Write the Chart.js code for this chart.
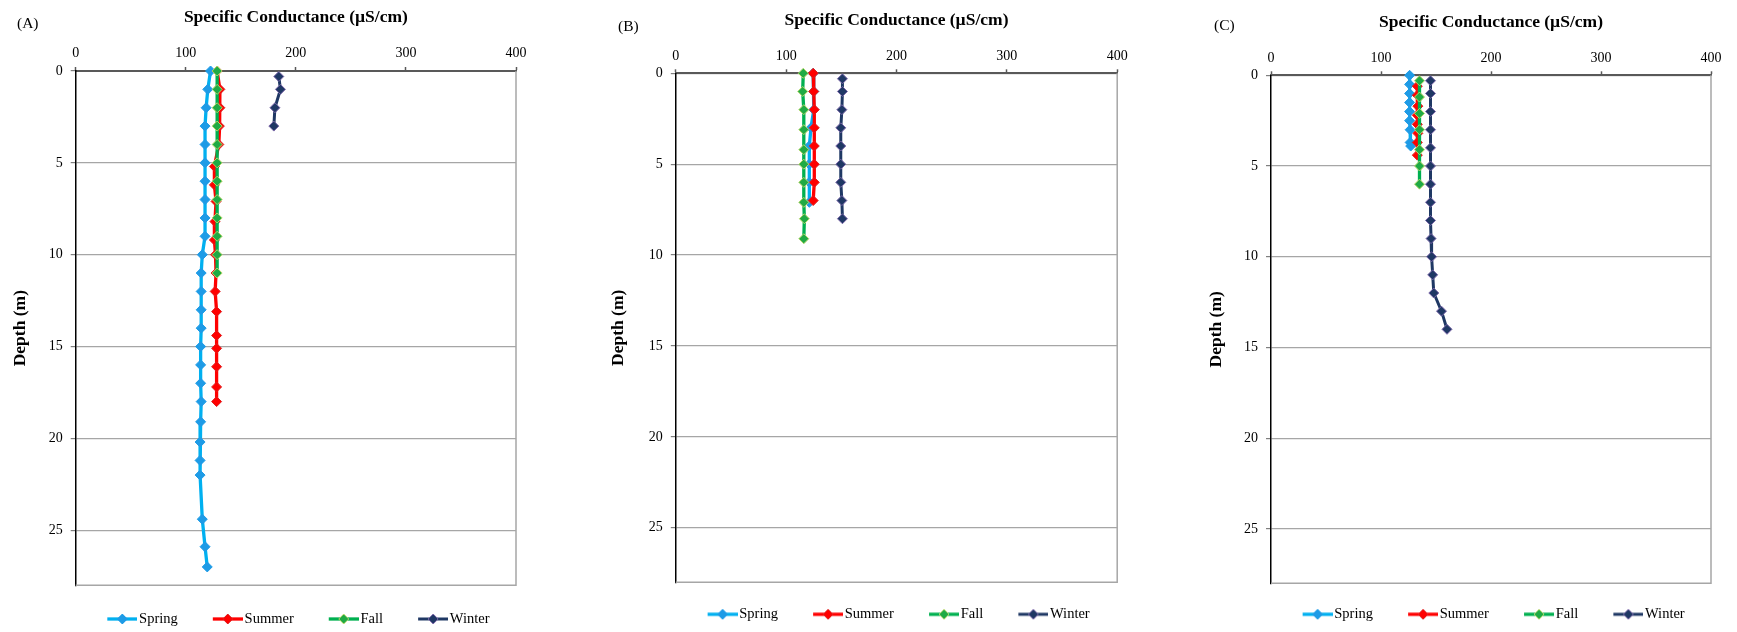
<!DOCTYPE html>
<html>
<head>
<meta charset="utf-8">
<title>Specific conductance profiles</title>
<script src="https://cdn.jsdelivr.net/npm/chart.js@4.4.1/dist/chart.umd.min.js"></script>
<style>
  html, body { margin: 0; padding: 0; background: #fff; }
  #sheet { position: relative; width: 1737px; height: 632px; overflow: hidden; }
  #sheet canvas { position: absolute; top: 0; }
  .panel-tag { position: absolute; font: 15.5px "Liberation Serif", "Times New Roman", serif; line-height: 18px; color: #000; }
</style>
</head>
<body>
<div id="sheet">
  <canvas id="siteA" width="590" height="637" style="left:0px"></canvas>
  <canvas id="siteB" width="590" height="632" style="left:590px"></canvas>
  <canvas id="siteC" width="557" height="632" style="left:1180px"></canvas>
  <div class="panel-tag" style="left:17px;top:14px">(A)</div>
  <div class="panel-tag" style="left:618px;top:17px">(B)</div>
  <div class="panel-tag" style="left:1214px;top:16px">(C)</div>
</div>
<script>
// Specific conductance (µS/cm) by depth (m), one profile per season at each site
const seasons = ['Spring', 'Summer', 'Fall', 'Winter'];

// Site A
const depthSpringA = [0, 1, 2, 3, 4, 5, 6, 7, 8, 9, 10, 11, 12, 13, 14, 15, 16, 17, 18, 19.1, 20.2, 21.2, 22, 24.4, 25.9, 27];
const condSpringA = [122.5, 120, 118.5, 117.5, 117.5, 117.5, 117.5, 117.5, 117.5, 117.5, 115, 114, 114, 114, 114, 113.5, 113.5, 113.5, 114, 113.5, 113, 113, 113, 115, 117.5, 119.5];
const depthSummerA = [0, 1, 2, 3, 4, 5.2, 6.2, 7.1, 8.2, 9.2, 10, 11, 12, 13.1, 14.4, 15.1, 16.1, 17.2, 18];
const condSummerA = [128.5, 131, 131, 130.5, 130, 126, 126, 127.5, 126.5, 126, 127, 127.5, 126.7, 128, 128, 128, 128, 128, 128];
const depthFallA = [0, 1, 2, 3, 4, 5, 6, 7, 8, 9, 10, 11];
const condFallA = [128.5, 128.5, 128.5, 128.5, 128.5, 128.5, 128.5, 128.5, 128.5, 128.5, 128.5, 128.5];
const depthWinterA = [0.3, 1, 2, 3];
const condWinterA = [184.5, 186, 181, 180];

// Site B
const depthSpringB = [0, 1, 2, 3, 4, 5, 6, 7.1];
const condSpringB = [124.5, 125, 125, 122.5, 121, 121, 121, 121];
const depthSummerB = [0, 1, 2, 3, 4, 5, 6, 7];
const condSummerB = [124.5, 125, 125.5, 125.5, 125.5, 125.5, 125.5, 124.5];
const depthFallB = [0, 1, 2, 3.1, 4.2, 5, 6, 7.1, 8, 9.1];
const condFallB = [115.5, 115, 116, 116, 116, 116, 116, 116, 116.5, 116];
const depthWinterB = [0.3, 1, 2, 3, 4, 5, 6, 7, 8];
const condWinterB = [151, 151, 150.5, 149.5, 149.5, 149.5, 149.5, 150.5, 151];

// Site C
const depthSpringC = [0, 0.5, 1, 1.5, 2, 2.5, 3, 3.7, 3.9];
const condSpringC = [126, 126, 126, 126, 126, 126, 126.5, 126.5, 127];
const depthSummerC = [0.6, 1.1, 1.7, 2.2, 2.7, 3.2, 3.7, 4.4];
const condSummerC = [133, 133, 133.5, 133, 133, 133.5, 133, 133];
const depthFallC = [0.3, 1.2, 2.1, 3, 4.1, 5, 6];
const condFallC = [135, 135, 135, 135, 135, 135, 135];
const depthWinterC = [0.3, 1, 2, 3, 4, 5, 6, 7, 8, 9, 10, 11, 12, 13, 14];
const condWinterC = [145, 145, 145, 145, 145, 145, 145, 145, 145, 145.5, 146, 147, 148, 155, 160];

const condTicks = [0, 400, 100];   // min, max, step
const depthTicks = [0, 28, 5];

// colours per season: line, marker fill, marker edge, line width
const seasonStyle = {
  Spring: { line: '#00B0F0', fill: '#1E9BE6', edge: '#1E9BE6', width: 3.3 },
  Summer: { line: '#FF0000', fill: '#FF0000', edge: '#E02020', width: 3.3 },
  Fall:   { line: '#00B050', fill: '#1FAA45', edge: '#B5D66A', width: 3.3 },
  Winter: { line: '#1F3864', fill: '#1F3864', edge: '#7A66A8', width: 3 }
};
const markerRadius = 5;

Chart.defaults.font.family = '"Liberation Serif", "Times New Roman", serif';
Chart.defaults.color = '#000';

const gridGrey = '#a6a6a6';

// right and bottom edges of the plot box
const plotFrame = {
  id: 'plotFrame',
  beforeDatasetsDraw(chart) {
    const { ctx, chartArea: a } = chart;
    ctx.save();
    ctx.strokeStyle = gridGrey;
    ctx.lineWidth = 1.5;
    ctx.beginPath();
    ctx.moveTo(a.left, a.bottom);
    ctx.lineTo(a.right, a.bottom);
    ctx.lineTo(a.right, a.top);
    ctx.stroke();
    ctx.restore();
  }
};

// move the legend row so it starts at a set x under the plot
const legendStart = {
  id: 'legendStart',
  afterLayout(chart, args, opts) {
    const lg = chart.legend;
    if (!lg || !lg.lineWidths) return;
    const pad = lg.options.labels.padding;
    const rowX = (lg.left + pad + lg.right - lg.lineWidths[0]) / 2;
    const dx = opts.x - rowX;
    lg.left += dx;
    lg.right += dx;
  }
};

function profile(depths, cond) {
  return cond.map((c, i) => ({ x: c, y: depths[i] }));
}

// legend key: short line with the diamond marker in the middle
function swatch(st, w) {
  const h = 14, mid = h / 2;
  const c = document.createElement('canvas');
  c.width = w;
  c.height = h;
  const g = c.getContext('2d');
  g.strokeStyle = st.line;
  g.lineWidth = st.width;
  g.beginPath();
  g.moveTo(w - 30, mid);
  g.lineTo(w, mid);
  g.stroke();
  const cx = w - 15, r = markerRadius;
  g.beginPath();
  g.moveTo(cx, mid - r);
  g.lineTo(cx + r, mid);
  g.lineTo(cx, mid + r);
  g.lineTo(cx - r, mid);
  g.closePath();
  g.fillStyle = st.fill;
  g.fill();
  g.strokeStyle = st.edge;
  g.lineWidth = 1;
  g.stroke();
  return c;
}

function makeChart(id, box, series) {
  const canvas = document.getElementById(id);
  const W = canvas.width, H = canvas.height;
  const legendPad = box.legendY - box.plotB - 7.25;
  const keyW = 59.55 - legendPad;
  const swW = Math.round(keyW + 11);
  const legendH = 14.5 + legendPad + 10;
  const keys = seasons.map(s => swatch(seasonStyle[s], swW));

  const datasets = seasons.map((name, i) => {
    const st = seasonStyle[name];
    return {
      label: name,
      data: profile(series[i][0], series[i][1]),
      borderColor: st.line,
      backgroundColor: st.fill,
      borderWidth: st.width,
      pointStyle: 'rectRot',
      pointRadius: markerRadius,
      pointBackgroundColor: st.fill,
      pointBorderColor: st.edge,
      pointBorderWidth: 1,
      clip: false,
      order: seasons.length - i   // spring underneath, winter on top
    };
  });

  return new Chart(canvas, {
    type: 'line',
    data: { datasets },
    plugins: [plotFrame, legendStart],
    options: {
      responsive: false,
      animation: false,
      layout: { padding: { left: 0, top: 0, right: W - box.plotR, bottom: H - box.plotB - legendH } },
      scales: {
        x: {
          type: 'linear',
          position: 'top',
          min: condTicks[0],
          max: condTicks[1],
          ticks: { stepSize: condTicks[2], font: { size: 14 }, color: '#000', padding: 5, maxRotation: 0 },
          grid: { drawOnChartArea: false, drawTicks: true, tickLength: 4, tickColor: '#595959', tickWidth: 1.5 },
          border: { color: '#595959', width: 2 },
          title: {
            display: true,
            text: 'Specific Conductance (µS/cm)',
            font: { size: 17.5, weight: 'bold' },
            color: '#000',
            padding: { top: box.titleY - 10.5, bottom: 0 }
          },
          afterFit: s => { s.height = box.plotT; }
        },
        y: {
          type: 'linear',
          reverse: true,
          min: depthTicks[0],
          max: depthTicks[1],
          ticks: { stepSize: depthTicks[2], includeBounds: false, font: { size: 14 }, color: '#000', padding: 8 },
          grid: { color: gridGrey, lineWidth: 1.2, tickLength: 5, tickColor: '#7f7f7f' },
          border: { color: '#000', width: 1.5 },
          title: {
            display: true,
            text: 'Depth (m)',
            font: { size: 17.5, weight: 'bold' },
            color: '#000',
            padding: { top: box.depthTitleX - 10.5, bottom: 0 }
          },
          afterFit: s => { s.width = box.plotL; }
        }
      },
      plugins: {
        tooltip: { enabled: false },
        legendStart: { x: box.legendX + 30 - keyW / 2 - swW / 2 },
        legend: {
          position: 'bottom',
          labels: {
            usePointStyle: true,
            pointStyleWidth: keyW,
            padding: legendPad,
            font: { size: 14.5 },
            color: '#000',
            generateLabels: chart => chart.data.datasets.map((ds, i) => ({
              text: ds.label,
              pointStyle: keys[i],
              datasetIndex: i,
              fillStyle: ds.borderColor,
              strokeStyle: ds.borderColor,
              lineWidth: 0,
              hidden: false
            }))
          }
        }
      }
    }
  });
}

makeChart('siteA',
  { plotL: 75.7, plotR: 516, plotT: 71, plotB: 585.3, titleY: 17.3, depthTitleX: 20, legendY: 619, legendX: 107.3 },
  [[depthSpringA, condSpringA], [depthSummerA, condSummerA], [depthFallA, condFallA], [depthWinterA, condWinterA]]);

makeChart('siteB',
  { plotL: 85.8, plotR: 527.2, plotT: 73.3, plotB: 582.3, titleY: 20.7, depthTitleX: 28, legendY: 614.3, legendX: 117.6 },
  [[depthSpringB, condSpringB], [depthSummerB, condSummerB], [depthFallB, condFallB], [depthWinterB, condWinterB]]);

makeChart('siteC',
  { plotL: 91, plotR: 531, plotT: 75.3, plotB: 583.3, titleY: 22.7, depthTitleX: 36.4, legendY: 614.3, legendX: 122.6 },
  [[depthSpringC, condSpringC], [depthSummerC, condSummerC], [depthFallC, condFallC], [depthWinterC, condWinterC]]);
</script>
</body>
</html>
